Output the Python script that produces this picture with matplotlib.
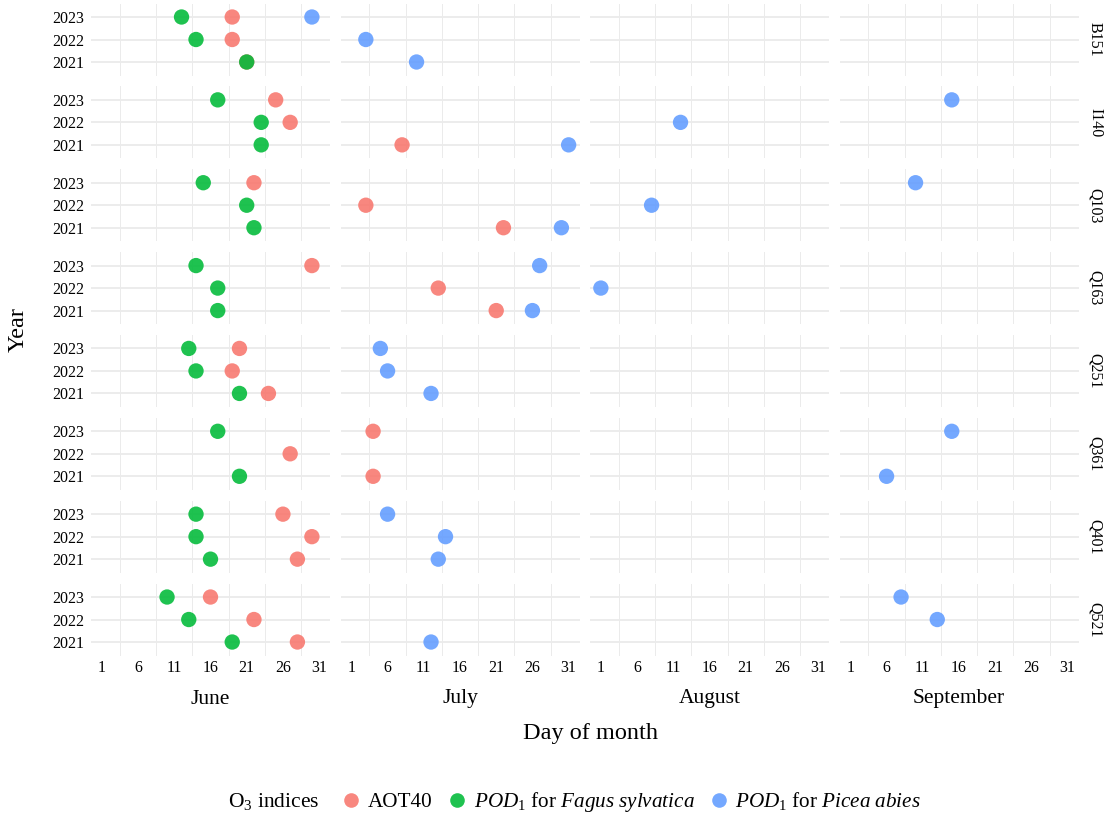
import matplotlib.pyplot as plt
from matplotlib.lines import Line2D

plt.rcParams['font.family'] = ['Liberation Serif', 'DejaVu Serif']
plt.rcParams['mathtext.fontset'] = 'custom'
plt.rcParams['mathtext.rm'] = 'Liberation Serif'
plt.rcParams['mathtext.it'] = 'Liberation Serif:italic'

# facets and axis labels
sites = ["B151", "I140", "Q103", "Q163", "Q251", "Q361", "Q401", "Q521"]
years = [2023, 2022, 2021]
months = ["June", "July", "August", "September"]
day_ticks = [1, 6, 11, 16, 21, 26, 31]

# dates (MM-DD) when each index was reached, per site, years 2023, 2022, 2021
aot40 = ["06-19", "06-19", "06-21",
         "06-25", "06-27", "07-08",
         "06-22", "07-03", "07-22",
         "06-30", "07-13", "07-21",
         "06-20", "06-19", "06-24",
         "07-04", "06-27", "07-04",
         "06-26", "06-30", "06-28",
         "06-16", "06-22", "06-28"]
pod_fagus = ["06-12", "06-14", "06-21",
             "06-17", "06-23", "06-23",
             "06-15", "06-21", "06-22",
             "06-14", "06-17", "06-17",
             "06-13", "06-14", "06-20",
             "06-17", None, "06-20",
             "06-14", "06-14", "06-16",
             "06-10", "06-13", "06-19"]
pod_picea = ["06-30", "07-03", "07-10",
             "09-15", "08-12", "07-31",
             "09-10", "08-08", "07-30",
             "07-27", "08-01", "07-26",
             "07-05", "07-06", "07-12",
             "09-15", None, "09-06",
             "07-06", "07-14", "07-13",
             "09-08", "09-13", "07-12"]

series = [
    ("AOT40", aot40, "#F8766D"),
    (r"$\mathit{POD}_1$ for $\mathit{Fagus\ sylvatica}$", pod_fagus, "#00BA38"),
    (r"$\mathit{POD}_1$ for $\mathit{Picea\ abies}$", pod_picea, "#619CFF"),
]

W, H = 1107, 816
fig = plt.figure(figsize=(W / 100, H / 100), dpi=100)

# panel geometry in pixels
col_left = [91, 340.5, 590, 839.5]
pw = 239
row_top0 = 3.5
row_pitch = 82.86
ph = 72
grid_col = "#EBEBEB"

axes = {}
for i, site in enumerate(sites):
    top = row_top0 + i * row_pitch
    for c, month in enumerate(months):
        ax = fig.add_axes([col_left[c] / W, 1 - (top + ph) / H, pw / W, ph / H])
        ax.set_xlim(-0.5, 32.5)
        ax.set_ylim(0.4, 3.6)
        for s in ax.spines.values():
            s.set_visible(False)
        for d in [3.5, 8.5, 13.5, 18.5, 23.5, 28.5]:
            ax.axvline(d, color=grid_col, lw=0.7, zorder=0)
        for y in [1, 2, 3]:
            ax.axhline(y, color=grid_col, lw=1.3, zorder=0)
        ax.set_yticks([3, 2, 1])
        if c == 0:
            ax.set_yticklabels([str(y) for y in years], fontsize=11.5)
        else:
            ax.set_yticklabels([])
        ax.set_xticks(day_ticks)
        if i == len(sites) - 1:
            ax.set_xticklabels([str(d) for d in day_ticks], fontsize=11.5)
        else:
            ax.set_xticklabels([])
        ax.tick_params(length=0, pad=5)
        ax.tick_params(axis='x', pad=3)
        axes[(i, c)] = ax

# points
for label, dates, color in series:
    for k, dt in enumerate(dates):
        if dt is None:
            continue
        i, j = divmod(k, 3)
        m, d = dt.split("-")
        c = int(m) - 6
        axes[(i, c)].scatter([int(d)], [3 - j], s=122, color=color,
                             edgecolors='none', alpha=0.88, zorder=3)

# strip labels, month labels, axis titles
for i, site in enumerate(sites):
    yc = row_top0 + i * row_pitch + ph / 2
    fig.text(1095 / W, 1 - yc / H, site, rotation=-90, ha='center', va='center',
             fontsize=11.5)
for c, month in enumerate(months):
    fig.text((col_left[c] + pw / 2) / W, 1 - 699 / H, month, ha='center',
             va='center', fontsize=15.5)
fig.text(590.5 / W, 1 - 734 / H, "Day of month", ha='center', va='center',
         fontsize=17.5)
fig.text(18 / W, 1 - 330 / H, "Year", rotation=90, ha='center', va='center',
         fontsize=17.5)

# legend
fig.text(228 / W, 1 - 802 / H, r"O$_3$ indices", ha='left', va='center',
         fontsize=15.5)
handles = [Line2D([], [], marker='o', ls='none', markersize=10.5,
                  markerfacecolor=col, markeredgecolor='none', alpha=0.88)
           for _, _, col in series]
fig.legend(handles, [s[0] for s in series], loc='center left',
           bbox_to_anchor=(342.4 / W, 1 - 802 / H), ncol=3, frameon=False,
           fontsize=15.2, handlelength=0.8, handletextpad=0.4,
           columnspacing=0.75, borderpad=0, borderaxespad=0)

fig.savefig("out.png", dpi=100)
